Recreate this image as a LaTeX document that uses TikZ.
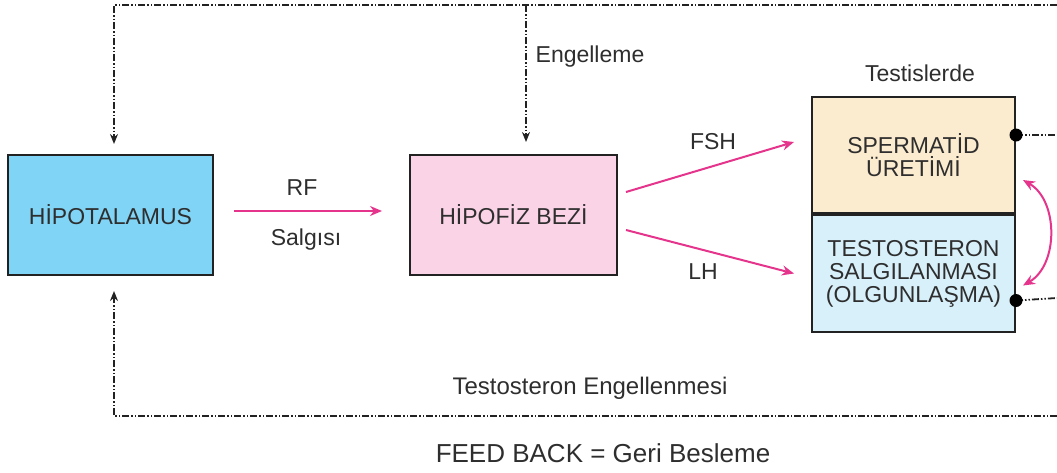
\documentclass[tikz,border=0pt]{standalone}
\usepackage{fontspec}
\setmainfont{Liberation Sans}
\usetikzlibrary{arrows.meta,calc,positioning}
\definecolor{vdarkgray}{HTML}{222222}
\definecolor{vtext}{HTML}{2e2e2e}
\definecolor{vpink}{HTML}{E4348C}
\definecolor{vcyan}{HTML}{80D4F6}
\definecolor{vrose}{HTML}{FAD3E7}
\definecolor{vcream}{HTML}{FBEBCF}
\definecolor{vice}{HTML}{D8F0FA}

\begin{document}
\begin{tikzpicture}[x=1pt, y=-1pt,
	organ/.style={draw=vdarkgray, line width=2pt, minimum width=205pt, minimum height=120pt, inner sep=0pt, text=vtext, font=\fontsize{23}{23}\selectfont, align=center},
	lbl/.style={text=vtext, font=\fontsize{23}{23}\selectfont, inner sep=0pt},
	feed/.style={color=vdarkgray, line width=1.8pt, dash pattern=on 7pt off 2pt on 1.5pt off 2pt on 1.5pt off 2pt},
	feedtip/.style={-{Stealth[length=10pt,width=8pt]}},
	hormone/.style={color=vpink, line width=2pt, -{Stealth[length=12pt,width=10pt]}}]
	\useasboundingbox (0,0) rectangle (1057,472);

	\node[organ, fill=vcyan] (hipo) at (110.5,215) {HİPOTALAMUS};
	\node[organ, fill=vrose, minimum width=207pt] (hipofiz) at (513.5,215) {HİPOFİZ BEZİ};
	\node[organ, fill=vcream, minimum width=203pt, minimum height=116pt] (sperm) at (913.5,155) {SPERMATİD\\ÜRETİMİ};
	\node[organ, fill=vice, minimum width=203pt, minimum height=117pt, anchor=north] (testo) at (sperm.south) {TESTOSTERON\\SALGILANMASI\\(OLGUNLAŞMA)};

	\node[lbl] (testis) at (920,73) {Testislerde};
	\node[lbl] (rf) at (302,188) {RF};
	\node[lbl] (salgi) at (306,240) {Salgısı};
	\node[lbl] (fsh) at (713,142) {FSH};
	\node[lbl] (lh) at (703,272) {LH};
	\node[lbl] (engel) at (590,57) {Engelleme};
	\node[lbl, font=\fontsize{24}{24}\selectfont] (tengel) at (590,388) {Testosteron Engellenmesi};
	\node[lbl, font=\fontsize{26}{26}\selectfont] (feedback) at (603,453) {FEED BACK = Geri Besleme};

	\coordinate (tr) at (1057,5);
	\coordinate (tl) at (114,5);
	\coordinate (tm) at (526,5);
	\coordinate (br) at (1057,416);
	\coordinate (bl) at (114,416);
	\coordinate (dotA) at ($(sperm.east)+(0,-20)$);
	\coordinate (dotB) at ($(testo.east)+(0,27)$);
	\coordinate (ra) at (1057,135);
	\coordinate (rb) at (1057,298);

	\draw[feed, feedtip, shorten >=10pt] (tr) -- (tl) -- (tl |- hipo.north);
	\draw[feed, feedtip, shorten >=12pt] (tm) -- (tm |- hipofiz.north);
	\draw[feed, feedtip, shorten >=15pt] (br) -- (bl) -- (bl |- hipo.south);
	\draw[feed] (dotA) -- (ra);
	\draw[feed] (dotB) -- (rb);
	\fill[black] (dotA) circle (6.5pt);
	\fill[black] (dotB) circle (6.5pt);

	\draw[hormone] ($(hipo.east)+(20,-4)$) -- ($(hipofiz.west)+(-27,-4)$);
	\draw[hormone] ($(hipofiz.east)+(8,-23)$) -- ($(sperm.west)+(-17,-13)$);
	\draw[hormone] ($(hipofiz.east)+(8,15)$) -- ($(testo.west)+(-17,0)$);
	\draw[hormone, {Stealth[length=12pt,width=10pt]}-{Stealth[length=12pt,width=10pt]}] ($(sperm.east)+(7,25)$) to[bend left=60] ($(testo.east)+(7,12)$);
\end{tikzpicture}
\end{document}
